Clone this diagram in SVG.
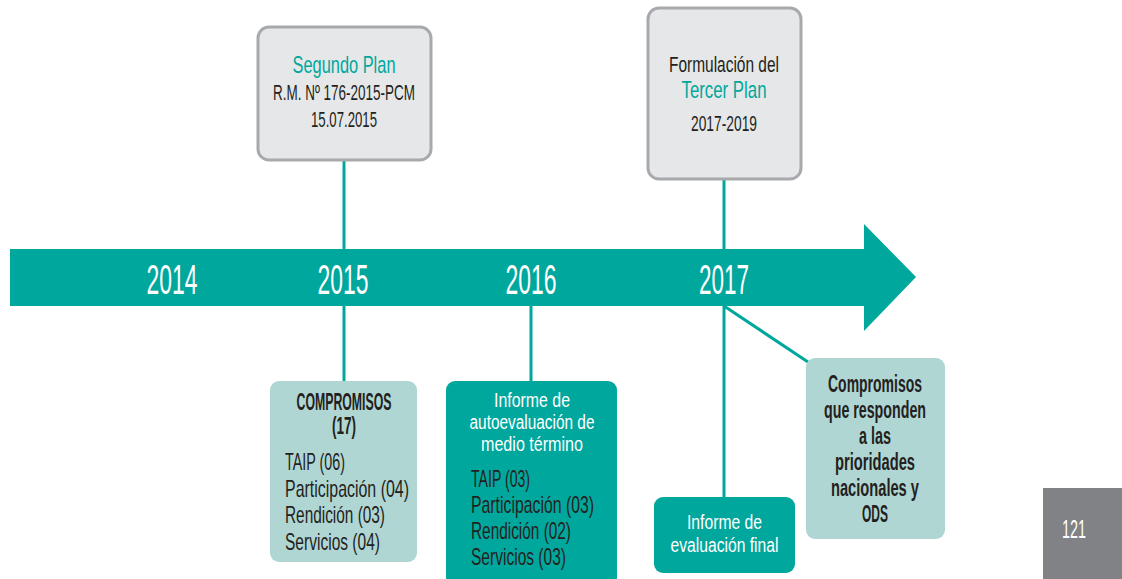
<svg xmlns="http://www.w3.org/2000/svg" width="1122" height="579" viewBox="0 0 1122 579">
<style>
  text { font-family: "Liberation Sans", "DejaVu Sans", sans-serif; }
  .yr { font-size: 43px; fill: #ffffff; text-anchor: middle; }
  .dk { fill: #231f20; }
  .tl { fill: #00a79d; }
  .wh { fill: #ffffff; font-size: 19.5px; }
  .c { text-anchor: middle; }
  .b { font-weight: bold; font-size: 23px; }
  .s23 { font-size: 24px; }
  .s21 { font-size: 22px; }
  .grey { fill: #e6e7e8; stroke: #a7a9ac; stroke-width: 3; }
  .light { fill: #b0d6d3; }
  .teal { fill: #00a79d; }
  .conn { stroke: #00a79d; stroke-width: 3; fill: none; }
</style>
<rect width="1122" height="579" fill="#ffffff"/>
<g id="timeline">
  <polygon class="teal" points="10,249 864,249 864,224 916,277 864,331 864,306 10,306"/>
  <text class="yr" x="172" y="294" textLength="51" lengthAdjust="spacingAndGlyphs">2014</text>
  <text class="yr" x="343" y="294" textLength="51" lengthAdjust="spacingAndGlyphs">2015</text>
  <text class="yr" x="531" y="294" textLength="51" lengthAdjust="spacingAndGlyphs">2016</text>
  <text class="yr" x="724" y="294" textLength="50" lengthAdjust="spacingAndGlyphs">2017</text>
</g>
<g id="connectors">
  <line class="conn" x1="344" y1="160" x2="344" y2="249"/>
  <line class="conn" x1="344" y1="306" x2="344" y2="381"/>
  <line class="conn" x1="531" y1="306" x2="531" y2="381"/>
  <line class="conn" x1="724" y1="180" x2="724" y2="249"/>
  <line class="conn" x1="724" y1="306" x2="724" y2="497"/>
  <line class="conn" x1="724" y1="306" x2="808" y2="362"/>
</g>
<g id="segundo-plan">
  <rect class="grey" x="258" y="27" width="173" height="133" rx="11"/>
  <text class="tl c s23" x="344" y="73" textLength="103" lengthAdjust="spacingAndGlyphs">Segundo Plan</text>
  <text class="dk c s21" x="344" y="100" textLength="142" lengthAdjust="spacingAndGlyphs">R.M. Nº 176-2015-PCM</text>
  <text class="dk c s21" x="344" y="127" textLength="66" lengthAdjust="spacingAndGlyphs">15.07.2015</text>
</g>
<g id="tercer-plan">
  <rect class="grey" x="648" y="8" width="153" height="171" rx="11"/>
  <text class="dk c s21" x="724" y="72" textLength="110" lengthAdjust="spacingAndGlyphs">Formulación del</text>
  <text class="tl c s23" x="724" y="98" textLength="85" lengthAdjust="spacingAndGlyphs">Tercer Plan</text>
  <text class="dk c s21" x="724" y="131" textLength="66" lengthAdjust="spacingAndGlyphs">2017-2019</text>
</g>
<g id="compromisos-17">
  <rect class="light" x="270" y="381" width="147" height="181" rx="9"/>
  <text class="dk c b" x="344" y="410" textLength="95" lengthAdjust="spacingAndGlyphs">COMPROMISOS</text>
  <text class="dk c b" x="344" y="434" textLength="24" lengthAdjust="spacingAndGlyphs">(17)</text>
  <text class="dk s23" x="285" y="470" textLength="60" lengthAdjust="spacingAndGlyphs">TAIP (06)</text>
  <text class="dk s23" x="285" y="496.5" textLength="124" lengthAdjust="spacingAndGlyphs">Participación (04)</text>
  <text class="dk s23" x="285" y="523" textLength="100" lengthAdjust="spacingAndGlyphs">Rendición (03)</text>
  <text class="dk s23" x="285" y="549.5" textLength="95" lengthAdjust="spacingAndGlyphs">Servicios (04)</text>
</g>
<g id="informe-medio-termino">
  <rect class="teal" x="446" y="381" width="171" height="205" rx="9"/>
  <text class="wh c" x="532" y="407" textLength="76" lengthAdjust="spacingAndGlyphs">Informe de</text>
  <text class="wh c" x="532" y="429" textLength="125" lengthAdjust="spacingAndGlyphs">autoevaluación de</text>
  <text class="wh c" x="532" y="451" textLength="102" lengthAdjust="spacingAndGlyphs">medio término</text>
  <text class="dk s23" x="471" y="487" textLength="59" lengthAdjust="spacingAndGlyphs">TAIP (03)</text>
  <text class="dk s23" x="471" y="513" textLength="123" lengthAdjust="spacingAndGlyphs">Participación (03)</text>
  <text class="dk s23" x="471" y="539" textLength="100" lengthAdjust="spacingAndGlyphs">Rendición (02)</text>
  <text class="dk s23" x="471" y="565" textLength="95" lengthAdjust="spacingAndGlyphs">Servicios (03)</text>
</g>
<g id="informe-final">
  <rect class="teal" x="654" y="497" width="141" height="76" rx="9"/>
  <text class="wh c" x="724.5" y="529" textLength="75" lengthAdjust="spacingAndGlyphs">Informe de</text>
  <text class="wh c" x="724.5" y="552" textLength="108" lengthAdjust="spacingAndGlyphs">evaluación final</text>
</g>
<g id="compromisos-ods">
  <rect class="light" x="806" y="358" width="139" height="181" rx="9"/>
  <text class="dk c b" x="875" y="392" textLength="94" lengthAdjust="spacingAndGlyphs">Compromisos</text>
  <text class="dk c b" x="875" y="418" textLength="102" lengthAdjust="spacingAndGlyphs">que responden</text>
  <text class="dk c b" x="875" y="444" textLength="32" lengthAdjust="spacingAndGlyphs">a las</text>
  <text class="dk c b" x="875" y="470" textLength="80" lengthAdjust="spacingAndGlyphs">prioridades</text>
  <text class="dk c b" x="875" y="496" textLength="88" lengthAdjust="spacingAndGlyphs">nacionales y</text>
  <text class="dk c b" x="875" y="522" textLength="26" lengthAdjust="spacingAndGlyphs">ODS</text>
</g>
<g id="page-number">
  <rect x="1043" y="488" width="79" height="91" fill="#808285"/>
  <text class="c" style="font-size:26px;fill:#ffffff" x="1074" y="538" textLength="24" lengthAdjust="spacingAndGlyphs">121</text>
</g>
</svg>
